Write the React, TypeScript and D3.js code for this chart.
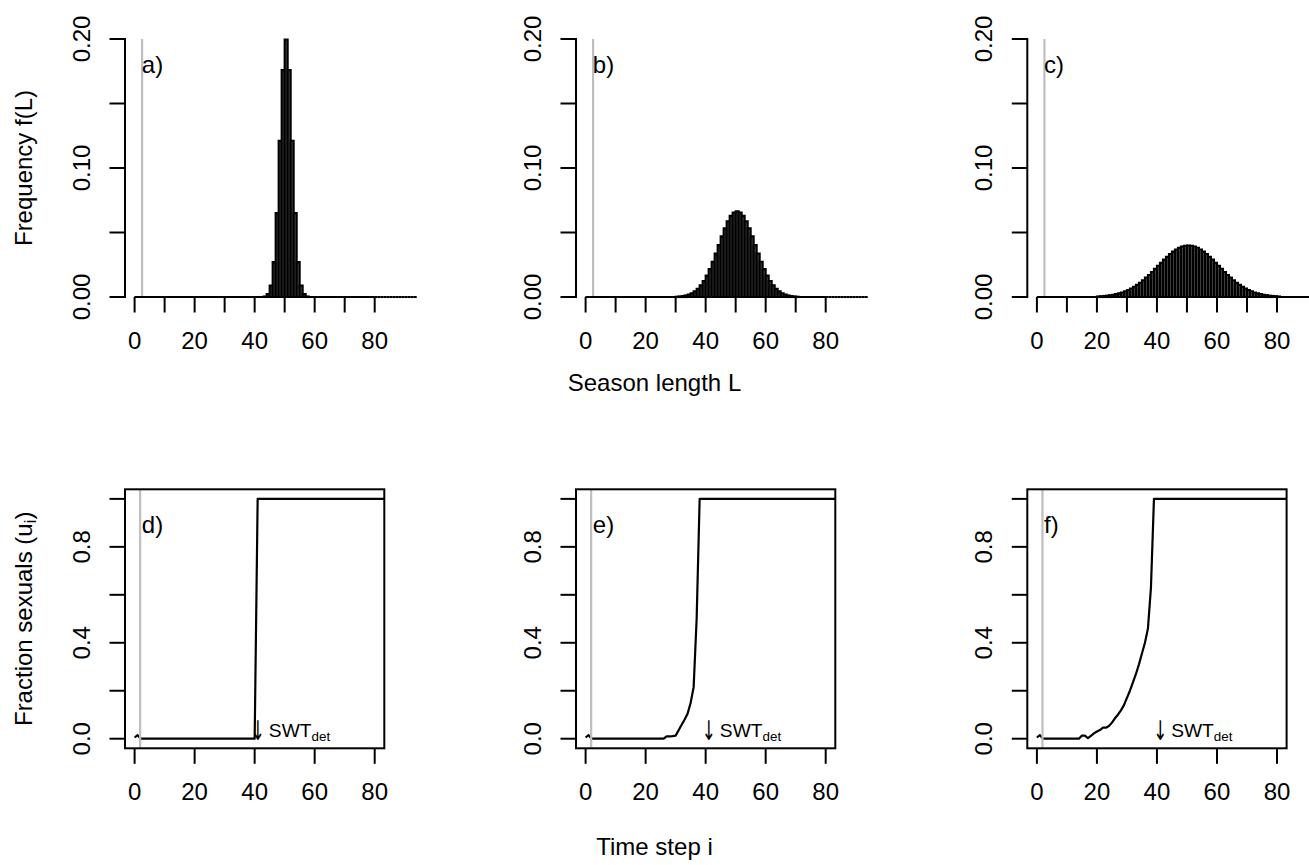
import React from 'react';
import * as d3 from 'd3';

// ---------- DATA ----------
// Frequency f(L) of season length L = 0..93 (one bar per L, spanning [L, L+1])
const freqA = [
  0, 0, 0, 0, 0, 0, 0, 0, 0, 0,
  0, 0, 0, 0, 0, 0, 0, 0, 0, 0,
  0, 0, 0, 0, 0, 0, 0, 0, 0, 0,
  0, 0, 0, 0, 0, 0, 0, 0, 0, 0,
  0, 0, 0, 0.0004, 0.0022, 0.0088, 0.027, 0.065, 0.121, 0.176,
  0.1995, 0.176, 0.121, 0.065, 0.027, 0.0088, 0.0022, 0.0004, 0, 0,
  0, 0, 0, 0, 0, 0, 0, 0, 0, 0,
  0, 0, 0, 0, 0, 0, 0, 0, 0, 0,
  0, 0, 0, 0, 0, 0, 0, 0, 0, 0,
  0, 0, 0, 0,
];
const freqB = [
  0, 0, 0, 0, 0, 0, 0, 0, 0, 0,
  0, 0, 0, 0, 0, 0, 0, 0, 0, 0,
  0, 0, 0, 0, 0, 0, 0, 0, 0, 0,
  0.0002, 0.0004, 0.0007, 0.0012, 0.0019, 0.0029, 0.0044, 0.0063, 0.009, 0.0124,
  0.0166, 0.0216, 0.0273, 0.0336, 0.0403, 0.047, 0.0532, 0.0587, 0.0629, 0.0655,
  0.0665, 0.0655, 0.0629, 0.0587, 0.0532, 0.047, 0.0403, 0.0336, 0.0273, 0.0216,
  0.0166, 0.0124, 0.009, 0.0063, 0.0044, 0.0029, 0.0019, 0.0012, 0.0007, 0.0004,
  0.0002, 0, 0, 0, 0, 0, 0, 0, 0, 0,
  0, 0, 0, 0, 0, 0, 0, 0, 0, 0,
  0, 0, 0, 0,
];
const freqC = [
  0, 0, 0, 0, 0, 0, 0, 0, 0, 0,
  0, 0, 0, 0, 0, 0, 0, 0, 0, 0,
  0.0004, 0.0006, 0.0008, 0.001, 0.0014, 0.0018, 0.0022, 0.0028, 0.0035, 0.0044,
  0.0054, 0.0066, 0.0079, 0.0094, 0.0111, 0.013, 0.015, 0.0171, 0.0194, 0.0218,
  0.0242, 0.0266, 0.029, 0.0312, 0.0333, 0.0352, 0.0368, 0.0381, 0.0391, 0.0397,
  0.0399, 0.0397, 0.0391, 0.0381, 0.0368, 0.0352, 0.0333, 0.0312, 0.029, 0.0266,
  0.0242, 0.0218, 0.0194, 0.0171, 0.015, 0.013, 0.0111, 0.0094, 0.0079, 0.0066,
  0.0054, 0.0044, 0.0035, 0.0028, 0.0022, 0.0018, 0.0014, 0.001, 0.0008, 0.0006,
  0.0004, 0, 0, 0, 0, 0, 0, 0, 0, 0,
  0, 0, 0, 0,
];

// Fraction sexuals u_i for time steps i = 0..84
const fracD = [
  0.005, 0.015, 0, 0, 0, 0, 0, 0, 0, 0,
  0, 0, 0, 0, 0, 0, 0, 0, 0, 0,
  0, 0, 0, 0, 0, 0, 0, 0, 0, 0,
  0, 0, 0, 0, 0, 0, 0, 0, 0, 0,
  0, 1, 1, 1, 1, 1, 1, 1, 1, 1,
  1, 1, 1, 1, 1, 1, 1, 1, 1, 1,
  1, 1, 1, 1, 1, 1, 1, 1, 1, 1,
  1, 1, 1, 1, 1, 1, 1, 1, 1, 1,
  1, 1, 1, 1, 1,
];
const fracE = [
  0.005, 0.015, 0, 0, 0, 0, 0, 0, 0, 0,
  0, 0, 0, 0, 0, 0, 0, 0, 0, 0,
  0, 0, 0, 0, 0, 0, 0, 0.01, 0.01, 0.011,
  0.013, 0.035, 0.058, 0.08, 0.105, 0.15, 0.215, 0.5, 1, 1,
  1, 1, 1, 1, 1, 1, 1, 1, 1, 1,
  1, 1, 1, 1, 1, 1, 1, 1, 1, 1,
  1, 1, 1, 1, 1, 1, 1, 1, 1, 1,
  1, 1, 1, 1, 1, 1, 1, 1, 1, 1,
  1, 1, 1, 1, 1,
];
const fracF = [
  0.005, 0.015, 0, 0, 0, 0, 0, 0, 0, 0,
  0, 0, 0, 0, 0, 0.013, 0.013, 0.002, 0.012, 0.022,
  0.03, 0.036, 0.046, 0.046, 0.053, 0.067, 0.085, 0.1, 0.118, 0.14,
  0.17, 0.2, 0.235, 0.27, 0.31, 0.355, 0.4, 0.46, 0.63, 1,
  1, 1, 1, 1, 1, 1, 1, 1, 1, 1,
  1, 1, 1, 1, 1, 1, 1, 1, 1, 1,
  1, 1, 1, 1, 1, 1, 1, 1, 1, 1,
  1, 1, 1, 1, 1, 1, 1, 1, 1, 1,
  1, 1, 1, 1, 1,
];

const topLabels = ['a)', 'b)', 'c)'];
const bottomLabels = ['d)', 'e)', 'f)'];
const topXTicks = [0, 10, 20, 30, 40, 50, 60, 70, 80];
const topXLabels = [0, 20, 40, 60, 80];
const topYTicks = [0, 0.05, 0.1, 0.15, 0.2];
const topYLabels = ['0.00', '0.10', '0.20'];
const topYLabelVals = [0, 0.1, 0.2];
const botXTicks = [0, 20, 40, 60, 80];
const botYTicks = [0, 0.2, 0.4, 0.6, 0.8, 1.0];
const botYLabels = ['0.0', '0.4', '0.8'];
const botYLabelVals = [0, 0.4, 0.8];
const grayTop = 2.5; // vertical reference line, top row
const grayBottom = 1.85; // vertical reference line, bottom row
const swtX = 39.4; // position of the SWT_det annotation
const swtY = 0.01;

// ---------- LAYOUT ----------
const W = 1309;
const H = 865;
const colLeft = [125, 576, 1027.3];
const plotW = 259.3;
const topBottom = 297;
const topTop = 39;
const botTop = 489.3;
const botBottom = 748.3;
const tick = 15.5;
const FONT = "'Liberation Sans', Arial, Helvetica, sans-serif";
const FS = 24;
const LW = 2;

function TopPanel({ col, freq, label }: { col: number; freq: number[]; label: string }) {
  const left = colLeft[col];
  const x = d3.scaleLinear().domain([-3.2, 83.2]).range([left, left + plotW]);
  const y = d3.scaleLinear().domain([0, 0.2]).range([topBottom, topTop]);
  const y0 = y(0);
  return (
    <g>
      {freq.map((v, L) => {
        const x0 = x(L);
        const x1 = x(L + 1);
        const yt = y(v);
        return (
          <path
            key={L}
            d={`M${x0},${y0}L${x0},${yt}L${x1},${yt}L${x1},${y0}Z`}
            fill="#4a4a4a"
            stroke="#000"
            strokeWidth={2.1}
          />
        );
      })}
      <line x1={x(grayTop)} x2={x(grayTop)} y1={topTop} y2={topBottom} stroke="#bebebe" strokeWidth={2.2} />
      {/* y axis */}
      <line x1={left} x2={left} y1={y(0)} y2={y(0.2)} stroke="#000" strokeWidth={LW} strokeLinecap="square" />
      {topYTicks.map((t) => (
        <line key={t} x1={left - tick} x2={left} y1={y(t)} y2={y(t)} stroke="#000" strokeWidth={LW} />
      ))}
      {topYLabelVals.map((t, i) => (
        <text
          key={t}
          transform={`translate(${left - 35},${y(t)}) rotate(-90)`}
          textAnchor="middle"
          fontFamily={FONT}
          fontSize={FS}
          fill="#000"
        >
          {topYLabels[i]}
        </text>
      ))}
      {/* x axis */}
      <line x1={x(0)} x2={x(80)} y1={topBottom} y2={topBottom} stroke="#000" strokeWidth={LW} />
      {topXTicks.map((t) => (
        <line key={t} x1={x(t)} x2={x(t)} y1={topBottom} y2={topBottom + tick} stroke="#000" strokeWidth={LW} />
      ))}
      {topXLabels.map((t) => (
        <text key={t} x={x(t)} y={topBottom + 52} textAnchor="middle" fontFamily={FONT} fontSize={FS} fill="#000">
          {t}
        </text>
      ))}
      <text x={x(2.4)} y={73} fontFamily={FONT} fontSize={FS} fill="#000">
        {label}
      </text>
    </g>
  );
}

function BottomPanel({ col, frac, label }: { col: number; frac: number[]; label: string }) {
  const left = colLeft[col];
  const x = d3.scaleLinear().domain([-3.2, 83.2]).range([left, left + plotW]);
  const y = d3.scaleLinear().domain([-0.04, 1.04]).range([botBottom, botTop]);
  const line = d3
    .line<number>()
    .x((_, i) => x(i))
    .y((d) => y(d));
  const clipId = `clip-bot-${col}`;
  return (
    <g>
      <defs>
        <clipPath id={clipId}>
          <rect x={left} y={botTop} width={plotW} height={botBottom - botTop} />
        </clipPath>
      </defs>
      <g clipPath={`url(#${clipId})`}>
        <path d={line(frac) || ''} fill="none" stroke="#000" strokeWidth={2.2} strokeLinejoin="round" />
      </g>
      <line x1={x(grayBottom)} x2={x(grayBottom)} y1={botTop} y2={botBottom} stroke="#bebebe" strokeWidth={2.2} />
      <rect x={left} y={botTop} width={plotW} height={botBottom - botTop} fill="none" stroke="#000" strokeWidth={LW} />
      {botYTicks.map((t) => (
        <line key={t} x1={left - tick} x2={left} y1={y(t)} y2={y(t)} stroke="#000" strokeWidth={LW} />
      ))}
      {botYLabelVals.map((t, i) => (
        <text
          key={t}
          transform={`translate(${left - 35},${y(t)}) rotate(-90)`}
          textAnchor="middle"
          fontFamily={FONT}
          fontSize={FS}
          fill="#000"
        >
          {botYLabels[i]}
        </text>
      ))}
      {botXTicks.map((t) => (
        <line key={t} x1={x(t)} x2={x(t)} y1={botBottom} y2={botBottom + tick} stroke="#000" strokeWidth={LW} />
      ))}
      {botXTicks.map((t) => (
        <text key={t} x={x(t)} y={botBottom + 52} textAnchor="middle" fontFamily={FONT} fontSize={FS} fill="#000">
          {t}
        </text>
      ))}
      <text x={x(2.4)} y={533} fontFamily={FONT} fontSize={FS} fill="#000">
        {label}
      </text>
      <text
        transform={`translate(${x(swtX) - 2},${y(swtY) + 4}) scale(0.85,1.35)`}
        fontFamily="'DejaVu Sans', sans-serif"
        fontSize={20}
        fill="#000"
      >
        ↓
      </text>
      <text x={x(swtX) + 16} y={y(swtY) + 0.5} fontFamily={FONT} fontSize={19.2} fill="#000">
        SWT
        <tspan fontSize={13.4} dy={4}>
          det
        </tspan>
      </text>
    </g>
  );
}

export default function App() {
  const tops = [freqA, freqB, freqC];
  const bots = [fracD, fracE, fracF];
  return (
    <svg
      width={W}
      height={H}
      viewBox={`0 0 ${W} ${H}`}
      style={{ position: 'absolute', left: 0, top: 0, background: '#fff' }}
    >
      <rect x={0} y={0} width={W} height={H} fill="#fff" />
      {tops.map((f, i) => (
        <TopPanel key={i} col={i} freq={f} label={topLabels[i]} />
      ))}
      {bots.map((f, i) => (
        <BottomPanel key={i} col={i} frac={f} label={bottomLabels[i]} />
      ))}
      <text
        transform={`translate(32,${(topTop + topBottom) / 2}) rotate(-90)`}
        textAnchor="middle"
        fontFamily={FONT}
        fontSize={FS}
        fill="#000"
      >
        Frequency f(L)
      </text>
      <text
        transform={`translate(32,${(botTop + botBottom) / 2}) rotate(-90)`}
        textAnchor="middle"
        fontFamily={FONT}
        fontSize={FS}
        fill="#000"
      >
        Fraction sexuals (u
        <tspan fontSize={16.8} dy={4}>
          i
        </tspan>
        <tspan dy={-4}>)</tspan>
      </text>
      <text x={654.5} y={391} textAnchor="middle" fontFamily={FONT} fontSize={FS} fill="#000">
        Season length L
      </text>
      <text x={654.5} y={855} textAnchor="middle" fontFamily={FONT} fontSize={FS} fill="#000">
        Time step i
      </text>
    </svg>
  );
}
